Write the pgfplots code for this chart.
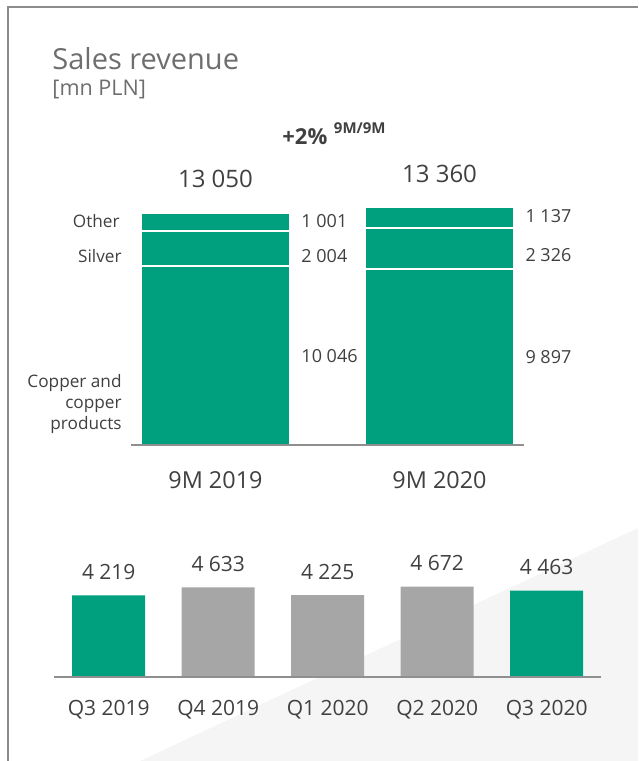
\documentclass[border=0pt]{standalone}
\usepackage{pgfplots}
\pgfplotsset{compat=1.18}
\usepackage{fontspec}
\setmainfont{Open Sans}

\definecolor{kgreen}{HTML}{00A07F}
\definecolor{kgray}{HTML}{A6A6A6}
\definecolor{txt}{HTML}{404040}
\definecolor{ttl}{HTML}{6E6E6E}
\definecolor{axisgray}{HTML}{8F8F8F}
\definecolor{bg}{HTML}{F5F5F5}
\definecolor{framegray}{HTML}{8C8C8C}

\pgfplotsset{/pgf/number format/.cd, 1000 sep={\ }, assume math mode=true}

\begin{document}
\begin{tikzpicture}
% 1 px of the reference = 0.5pt
\path[use as bounding box] (0pt,0pt) rectangle (319pt,380.5pt);
% background wedge and frame
\fill[bg] (70pt,0pt) -- (319pt,116.5pt) -- (319pt,0pt) -- cycle;
\draw[framegray, line width=0.85pt] (4pt,0pt) -- (4pt,377pt) -- (319pt,377pt);

% titles
\node[anchor=base west, inner sep=0, text=ttl, font=\fontsize{14.5}{17}\selectfont] at (26pt,345.5pt) {Sales revenue};
\node[anchor=base west, inner sep=0, text=ttl, font=\fontsize{10.8}{13}\selectfont] at (26pt,332.5pt) {[mn PLN]};
\node[anchor=base west, inner sep=0, text=txt, font=\bfseries\fontsize{11}{13}\selectfont] at (141pt,308pt)
  {+2\%\hspace{0.3em}\raisebox{0.5em}{\fontsize{7.5}{9}\selectfont 9M/9M}};

% category names of the stacked chart
\node[anchor=east, inner sep=0, text=txt, font=\fontsize{8.6}{10.5}\selectfont] at (60pt,270pt) {Other};
\node[anchor=east, inner sep=0, text=txt, font=\fontsize{8.6}{10.5}\selectfont] at (61pt,252.5pt) {Silver};
\node[anchor=east, align=right, inner sep=0, text=txt, font=\fontsize{8.6}{10.5}\selectfont] at (61pt,178.5pt) {Copper and\\copper\\products};

\pgfplotsset{
  top9m/.style={
    at={(65.5pt,158pt)}, anchor=south west,
    scale only axis, width=196.5pt, height=124.46pt,
    xmin=-0.377, xmax=1.377, ymin=0, ymax=14000,
    bar width=74.5pt, clip=false,
  },
}

% 9M stacked chart (segment values sit at the middle of each segment)
\begin{axis}[
  top9m, ybar stacked,
  axis x line*=bottom, axis y line=none,
  x axis line style={axisgray, line width=1pt, -},
  xtick={0,1}, xticklabels={9M 2019, 9M 2020},
  major tick length=0pt,
  xticklabel style={font=\fontsize{11.7}{14}\selectfont, text=txt, anchor=north, inner sep=0pt, yshift=-13.3pt},
  axis on top,
  point meta=rawy,
  seg/.style={fill=kgreen, draw=white, line width=1pt, nodes near coords,
    every node near coord/.append style={font=\fontsize{9}{11}\selectfont, text=txt,
      anchor=west, inner sep=0pt, xshift=42.5pt}},
]
\addplot[seg] coordinates {(0,10046) (1,9897)};   % copper and copper products
\addplot[seg, every node near coord/.append style={yshift=-3.5pt}] coordinates {(0,2004) (1,2326)}; % silver
\addplot[seg, every node near coord/.append style={yshift=0.5pt}] coordinates {(0,1001) (1,1137)};    % other
\end{axis}

% totals above the stacks
\begin{axis}[
  top9m, ybar, bar shift=0pt, hide axis,
  nodes near coords,
  every node near coord/.append style={font=\fontsize{12}{14}\selectfont, text=txt,
    anchor=south, inner sep=0pt, yshift=12.2pt},
]
\addplot[draw=none, fill=none] coordinates {(0,13050) (1,13360)};
\end{axis}

% quarterly chart
\begin{axis}[
  at={(27pt,42pt)}, anchor=south west,
  scale only axis, width=273.75pt, height=48.4pt,
  xmin=-0.5, xmax=4.5, ymin=0, ymax=5000,
  ybar, bar width=36.5pt, bar shift=0pt,
  axis x line*=bottom, axis y line=none,
  x axis line style={axisgray, line width=1pt, -},
  xtick={0,...,4}, xticklabels={Q3 2019, Q4 2019, Q1 2020, Q2 2020, Q3 2020},
  major tick length=0pt,
  xticklabel style={font=\fontsize{10.5}{12}\selectfont, text=txt, anchor=north, inner sep=0pt, yshift=-11.25pt},
  nodes near coords,
  every node near coord/.append style={font=\fontsize{10.5}{12}\selectfont, text=txt,
    anchor=south, inner sep=0pt, yshift=7.75pt},
  axis on top, clip=false,
]
\addplot[fill=kgreen, draw=none] coordinates {(0,4219) (4,4463)};
\addplot[fill=kgray, draw=none] coordinates {(1,4633) (2,4225) (3,4672)};
\end{axis}
\end{tikzpicture}
\end{document}
